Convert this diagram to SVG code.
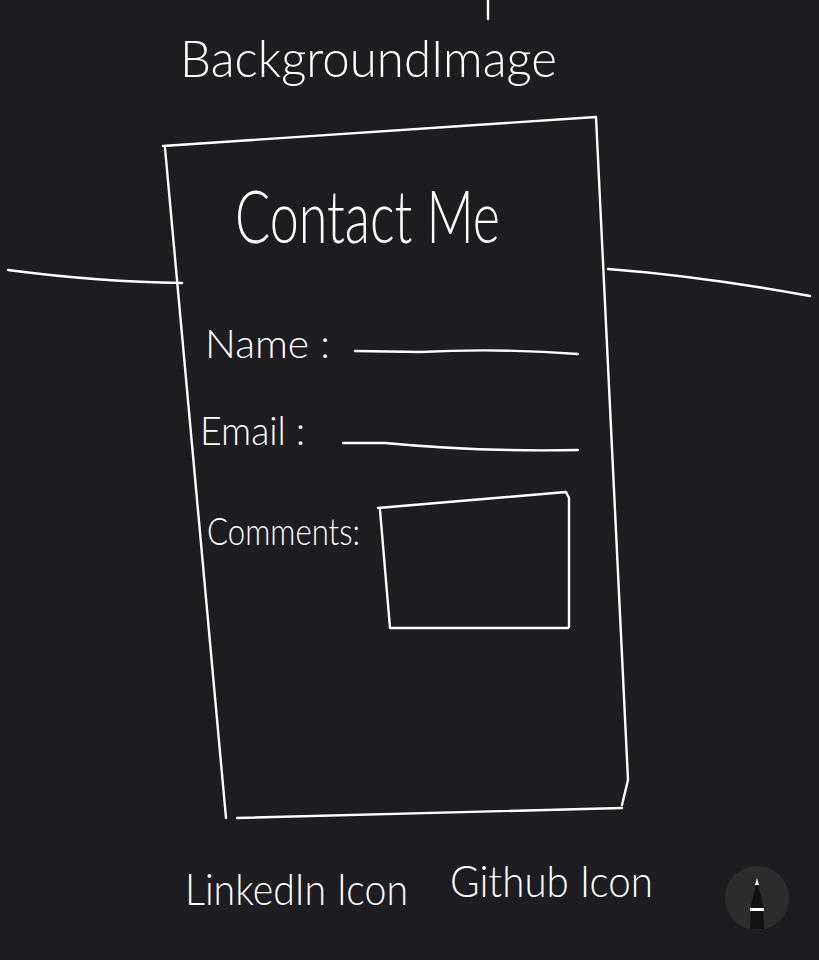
<svg xmlns="http://www.w3.org/2000/svg" width="819" height="960" viewBox="0 0 819 960">
<style>
.bg{fill:#1d1d21}
.ink{fill:none;stroke:#ffffff;stroke-width:2.4;stroke-linecap:round;stroke-linejoin:round}
.t{fill:#ffffff;font-family:Lato,"Liberation Sans",sans-serif;font-weight:300}
</style>
<rect class="bg" x="0" y="0" width="819" height="960"/>
<g id="sketch">
<path class="ink" d="M488,0 L488,19" stroke-width="1.6"/>
<g id="page-box">
<path class="ink" d="M163,146 L596,117 L628,780 L622,805"/>
<path class="ink" d="M165,148 L226,818"/>
<path class="ink" d="M237,818 L622,808"/>
</g>
<path class="ink" d="M8,270 Q100,282 182,283"/>
<path class="ink" d="M608,269 Q700,276 810,296"/>
<path class="ink" d="M355,351 L420,352 Q500,348 578,354"/>
<path class="ink" d="M343,443 L385,443 Q480,452 578,450"/>
<g id="comment-box">
<path class="ink" d="M378,508 L566,492 L569,498 L569,627"/>
<path class="ink" d="M380,510 L390,628 L568,628"/>
</g>
</g>
<g id="labels">
<text class="t" x="180" y="77" font-size="52" textLength="377" lengthAdjust="spacingAndGlyphs">BackgroundImage</text>
<text class="t" x="235" y="243" font-size="72" textLength="265" lengthAdjust="spacingAndGlyphs">Contact Me</text>
<text class="t" x="205" y="358" font-size="40" textLength="125" lengthAdjust="spacingAndGlyphs">Name :</text>
<text class="t" x="200" y="445" font-size="40" textLength="105" lengthAdjust="spacingAndGlyphs">Email :</text>
<text class="t" x="207" y="545" font-size="38" textLength="153" lengthAdjust="spacingAndGlyphs">Comments:</text>
<text class="t" x="185" y="905" font-size="44" textLength="223" lengthAdjust="spacingAndGlyphs">LinkedIn Icon</text>
<text class="t" x="450" y="897" font-size="44" textLength="203" lengthAdjust="spacingAndGlyphs">Github Icon</text>
</g>
<g id="pen-button">
<circle cx="757" cy="898" r="32" fill="#2c2c2f"/>
<path d="M750,929 L751,905 Q754,890 757,884 Q760,890 763,905 L764,929 Z" fill="#111113"/>
<path d="M755,885 L757,878 L759,885 Z" fill="#ffffff"/>
<rect x="750" y="908" width="14" height="3" fill="#ffffff"/>
</g>
</svg>
